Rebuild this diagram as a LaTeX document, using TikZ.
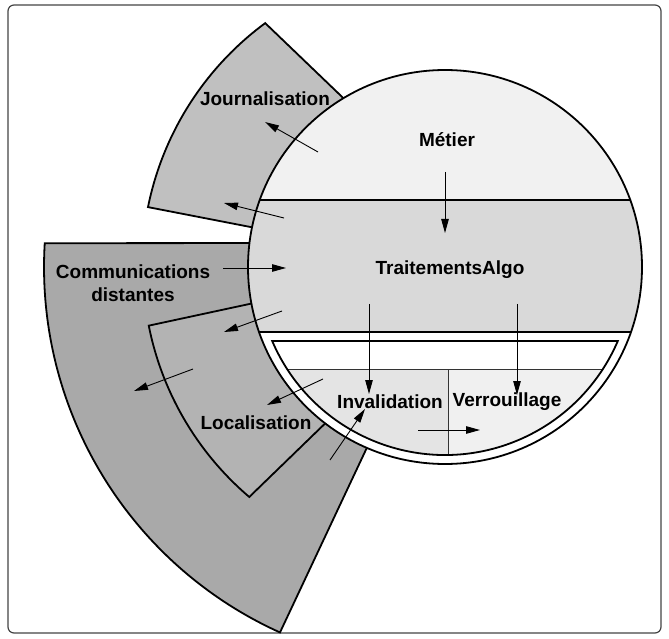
\documentclass[tikz,border=0pt]{standalone}
\usepackage{fontspec}
\setmainfont{Liberation Sans}
\usetikzlibrary{arrows.meta}
\definecolor{cMetier}{HTML}{F1F1F1}
\definecolor{cTrait}{HTML}{D9D9D9}
\definecolor{cJour}{HTML}{C0C0C0}
\definecolor{cComm}{HTML}{A9A9A9}
\definecolor{cLoc}{HTML}{B3B3B3}
\definecolor{cInv}{HTML}{E4E4E4}
\definecolor{cVer}{HTML}{F0F0F0}
\definecolor{cFrame}{HTML}{444444}
\begin{document}
\begin{tikzpicture}[x=1pt,y=1pt,
  lab/.style={font=\fontsize{19}{22.5}\selectfont\bfseries, inner sep=0pt, align=center},
  arr/.style={line width=0.9pt, -{Triangle[length=14pt,width=7.5pt]}},
  bord/.style={line width=1.8pt, draw=black},
  thinl/.style={line width=0.8pt, draw=black!80},
  sector/.style={bord, line join=miter}]
\useasboundingbox (0,0) rectangle (669,638);
\draw[cFrame, line width=1.2pt, rounded corners=6pt] (8,5) rectangle (661,633);
\coordinate (C) at (445,371);
% sectors
\filldraw[sector, fill=cComm] (C) ++(176.6:401) arc[start angle=176.6, end angle=245.7, radius=401] -- (401.8,264.5) -- (300,395) -- cycle;
\filldraw[sector, fill=cLoc] (C) ++(191.2:302) arc[start angle=191.2, end angle=229.6, radius=302] -- (349.3,238) -- (281.4,340.9) -- cycle;
\filldraw[sector, fill=cJour] (C) ++(126.4:303) arc[start angle=126.4, end angle=168.6, radius=303] -- (261.3,408.9) -- (360.2,523.7) -- cycle;
% circle content
\begin{scope}
  \clip (C) circle[radius=197];
  \fill[cMetier] (240,438) rectangle (650,575);
  \fill[cTrait] (240,306) rectangle (650,438);
  \fill[white] (240,170) rectangle (650,306);
  \draw[bord] (240,438) -- (650,438);
  \draw[bord] (240,306) -- (650,306);
\end{scope}
\fill[white] (C) ++(203.18:188) arc[start angle=203.18, end angle=336.82, radius=188] -- cycle;
\begin{scope}
  \clip (C) ++(203.18:188) arc[start angle=203.18, end angle=336.82, radius=188] -- cycle;
  \fill[cInv] (250,170) rectangle (448,269);
  \fill[cVer] (448,170) rectangle (640,269);
  \draw[thinl] (250,269) -- (640,269);
  \draw[thinl] (448,269) -- (448,170);
\end{scope}
\draw[bord] (C) ++(203.18:188) arc[start angle=203.18, end angle=336.82, radius=188] -- cycle;
\draw[bord] (C) circle[radius=197];
% labels
\node[lab] (jour) at (265,539) {Journalisation};
\node[lab] (metier) at (447,498) {Métier};
\node[lab] (trait) at (450,368) {TraitementsAlgo};
\node[lab] (comm) at (133,355) {Communications\\distantes};
\node[lab] (loc) at (256,215) {Localisation};
\node[lab] (inv) at (390,236) {Invalidation};
\node[lab] (ver) at (507,236) {Verrouillage};
% arrow end points
\coordinate (a1s) at (318,486); \coordinate (a1e) at (265,516);
\coordinate (a2s) at (284,420); \coordinate (a2e) at (224,435);
\coordinate (a3s) at (223,370); \coordinate (a3e) at (286,370);
\coordinate (a4s) at (282,327); \coordinate (a4e) at (224,306);
\coordinate (a5s) at (193,269); \coordinate (a5e) at (134,247);
\coordinate (a6s) at (323,259); \coordinate (a6e) at (267,233);
\coordinate (a7s) at (330,178); \coordinate (a7e) at (365,229);
\coordinate (a8s) at (418,208); \coordinate (a8e) at (480,208);
\coordinate (a9s) at (445,466); \coordinate (a9e) at (445,405);
\coordinate (a10s) at (369,334); \coordinate (a10e) at (369,244);
\coordinate (a11s) at (517,334); \coordinate (a11e) at (517,243);
\foreach \i in {1,...,11} {\draw[arr] (a\i s) -- (a\i e);}
\end{tikzpicture}
\end{document}
